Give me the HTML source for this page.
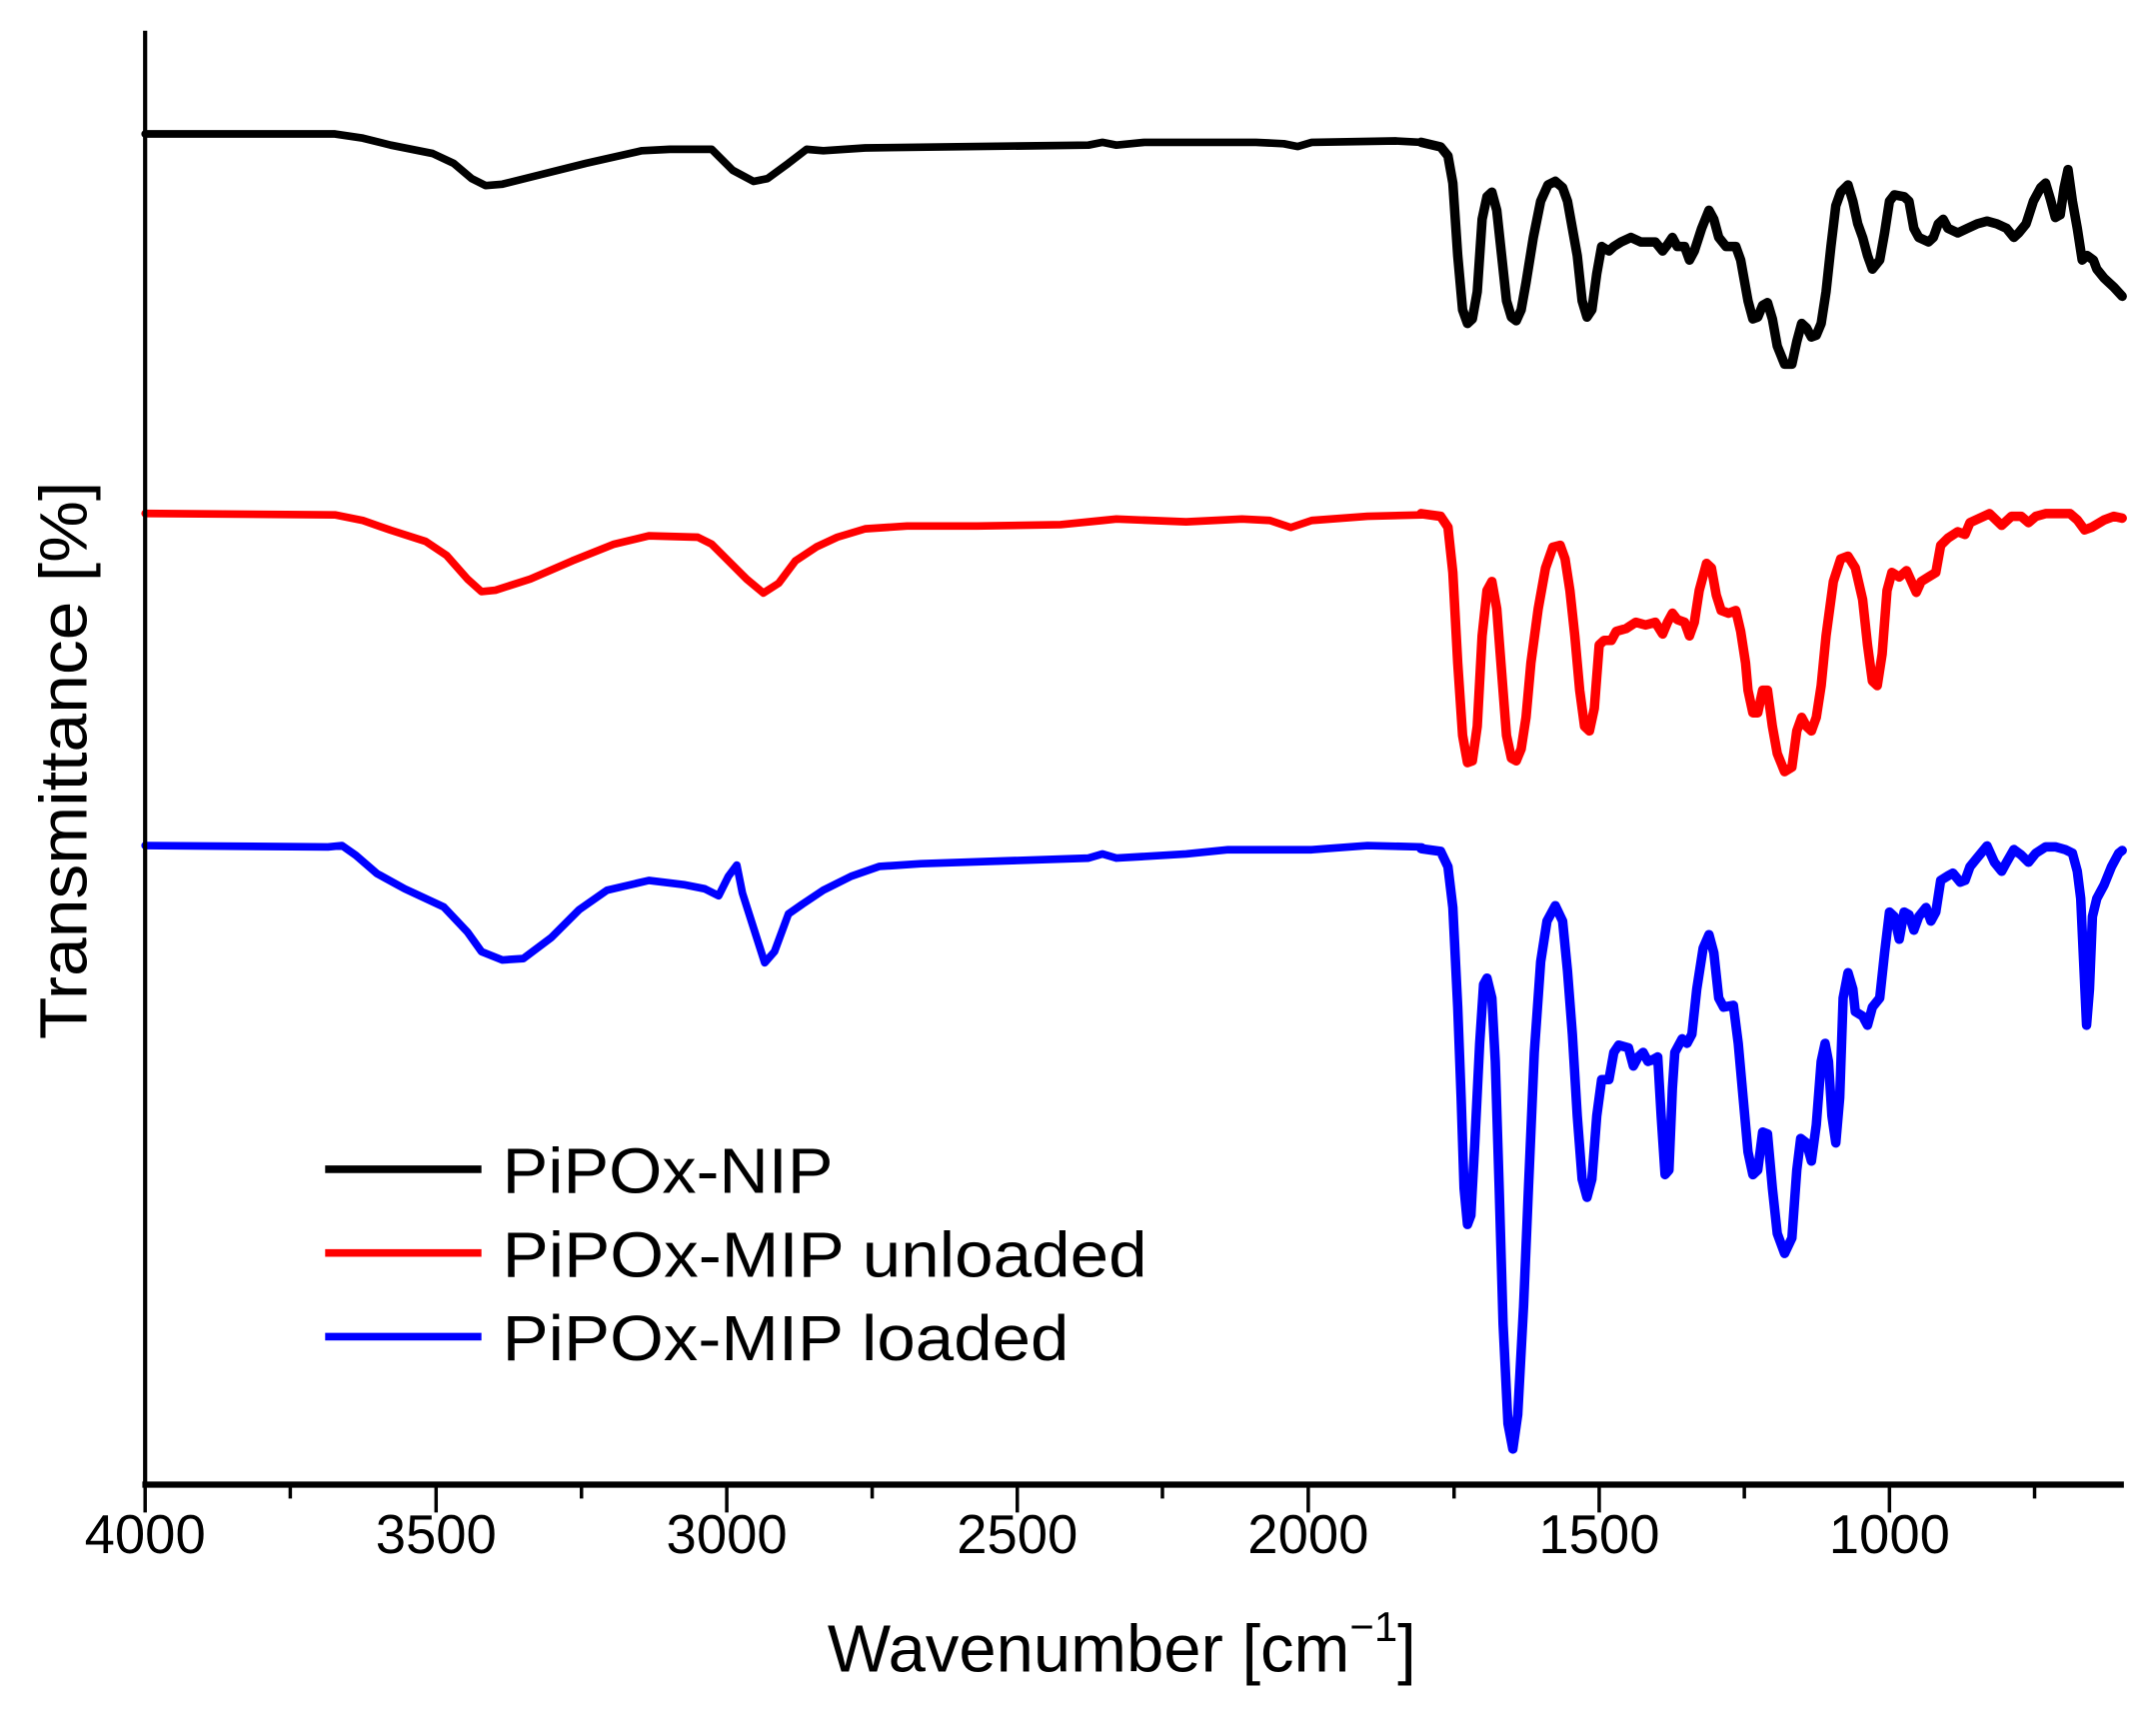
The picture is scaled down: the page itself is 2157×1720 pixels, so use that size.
<!DOCTYPE html>
<html><head><meta charset="utf-8"><style>
html,body{margin:0;padding:0;background:#fff}
svg{display:block}
text{font-family:"Liberation Sans",Arial,sans-serif;fill:#000}
</style></head><body>
<svg width="2157" height="1720" viewBox="0 0 1545 1232" xmlns="http://www.w3.org/2000/svg">
<g fill="none" stroke-linejoin="round" stroke-linecap="round" stroke-width="5.5">
<polyline stroke="#000" points="104,96 240,96 260,99 280,104 310,110 325,117 338,128 348,133 360,132 380,127 420,117 460,108 480,107 510,107 515,112 525,122 540,130 550,128 565,117 578,107 590,108 620,106 700,105 780,104 790,102 800,104 820,102 900,102 920,103 930,105 940,102 1000,101 1019,102"/>
<polyline stroke="#f00" points="104,368 240,369 260,373 280,380 305,388 320,398 335,415 345,424 355,423 380,415 410,402 440,390 465,384 500,385 510,390 520,400 535,415 547,425 558,418 570,402 585,392 600,385 620,379 650,377 700,377 760,376 790,373 800,372 850,374 890,372 910,373 925,378 940,373 980,370 1019,369"/>
<polyline stroke="#00f" points="104,606 235,607 245,606 255,613 270,626 290,637 318,650 335,668 345,682 360,688 375,687 395,672 415,652 435,638 465,631 490,634 505,637 515,642 522,628 528,620 532,640 540,665 548,690 555,682 565,655 575,648 590,638 610,628 630,621 660,619 720,617 780,615 790,612 800,615 850,612 880,609 940,609 980,606 1019,607"/>
<g transform="translate(1018.4,72.8) scale(0.3496,0.649)" style="stroke-width:9.5px">
<polyline vector-effect="non-scaling-stroke" stroke="#000" points="0,45 40,50 55,60 65,90 75,170 85,230 95,245 105,240 115,210 125,130 135,105 145,100 155,120 165,170 175,220 185,238 195,242 205,230 215,200 230,150 245,110 260,92 275,88 290,95 300,110 310,140 320,170 330,220 340,238 350,230 360,190 370,160 385,165 395,160 410,155 430,150 450,155 470,155 480,155 495,165 505,158 515,150 525,160 540,160 550,175 560,165 575,140 590,120 600,130 610,150 625,160 645,160 655,175 670,220 680,240 690,238 700,225 710,222 720,240 730,270 745,290 760,290 770,265 780,245 790,250 800,260 810,258 820,245 830,210 840,160 850,115 860,100 875,92 885,110 895,135 905,150 915,170 925,185 940,175 950,145 960,110 970,103 990,105 1000,110 1010,140 1020,150 1040,155 1050,150 1060,135 1070,130 1080,140 1100,145 1120,140 1140,135 1160,132 1180,135 1200,140 1215,150 1225,145 1240,135 1255,110 1270,95 1280,90 1290,108 1300,128 1310,125 1318,95 1326,75 1335,110 1345,140 1355,175 1365,170 1378,175 1385,185 1400,195 1420,205 1437,215"/>
<polyline vector-effect="non-scaling-stroke" stroke="#f00" points="0,455 40,458 55,470 65,520 75,620 85,700 95,730 105,728 115,690 125,590 135,540 145,530 155,560 165,630 175,700 185,725 195,728 205,715 215,680 225,620 240,560 255,515 270,492 285,490 295,505 305,540 315,590 325,650 335,690 345,695 355,670 365,600 375,595 390,595 400,585 420,582 440,575 460,578 480,575 495,588 505,575 515,565 525,572 540,575 550,590 560,575 570,540 585,510 595,515 605,545 615,562 630,565 645,562 655,585 665,620 670,650 680,675 690,675 700,650 710,650 720,690 730,720 745,740 760,735 770,695 780,680 790,690 800,695 810,680 820,645 830,590 845,530 860,505 875,502 890,515 905,550 915,600 925,640 935,645 945,610 955,540 965,520 980,525 995,518 1005,530 1015,542 1025,530 1040,525 1055,520 1065,490 1080,482 1100,475 1115,478 1125,465 1145,460 1165,455 1190,468 1210,458 1230,458 1245,465 1260,458 1280,455 1310,455 1330,455 1345,462 1360,473 1375,470 1400,462 1420,458 1437,460"/>
<polyline vector-effect="non-scaling-stroke" stroke="#00f" points="0,825 40,828 55,845 65,890 75,1000 82,1100 88,1200 95,1240 102,1230 110,1150 120,1040 128,975 135,968 145,990 152,1060 160,1200 168,1350 178,1460 188,1488 198,1450 210,1330 220,1200 232,1050 245,950 258,905 275,888 290,905 300,960 310,1030 320,1120 330,1190 340,1210 350,1190 360,1120 370,1080 385,1080 395,1050 405,1042 425,1045 435,1065 445,1055 455,1050 465,1060 475,1058 485,1055 492,1120 500,1185 508,1180 515,1090 520,1050 535,1035 545,1040 555,1030 565,980 578,935 590,920 600,940 610,990 620,1000 640,998 650,1040 660,1100 670,1160 680,1185 690,1180 700,1138 710,1140 720,1200 730,1250 745,1272 760,1255 770,1180 778,1145 790,1150 800,1170 810,1130 820,1060 828,1040 835,1060 842,1120 850,1150 858,1100 865,990 875,962 885,980 890,1005 905,1010 915,1020 925,1000 940,990 950,940 960,895 970,900 980,925 990,895 1000,898 1010,915 1020,900 1035,890 1045,905 1055,895 1065,860 1080,855 1090,852 1105,862 1115,860 1125,845 1140,835 1160,822 1175,840 1190,850 1200,840 1215,826 1230,832 1245,840 1260,830 1280,823 1300,823 1320,826 1335,830 1345,850 1352,880 1358,950 1364,1020 1370,980 1376,900 1385,880 1400,865 1415,845 1430,830 1437,827"/>
</g>
</g>
<g stroke="#000">
<line x1="104" y1="22" x2="104" y2="1066" stroke-width="3"/>
<line x1="102" y1="1064" x2="1522" y2="1064" stroke-width="4.5"/>
<g stroke-width="2.5">
<line x1="104" y1="1064" x2="104" y2="1084"/><line x1="312.5" y1="1064" x2="312.5" y2="1084"/><line x1="520.8" y1="1064" x2="520.8" y2="1084"/><line x1="729" y1="1064" x2="729" y2="1084"/><line x1="937.5" y1="1064" x2="937.5" y2="1084"/><line x1="1146" y1="1064" x2="1146" y2="1084"/><line x1="1354" y1="1064" x2="1354" y2="1084"/>
<line x1="208" y1="1064" x2="208" y2="1074"/><line x1="416.7" y1="1064" x2="416.7" y2="1074"/><line x1="625" y1="1064" x2="625" y2="1074"/><line x1="833" y1="1064" x2="833" y2="1074"/><line x1="1042" y1="1064" x2="1042" y2="1074"/><line x1="1250" y1="1064" x2="1250" y2="1074"/><line x1="1458" y1="1064" x2="1458" y2="1074"/>
</g>
</g>
<g font-size="39" text-anchor="middle">
<text x="104" y="1113">4000</text><text x="312.5" y="1113">3500</text><text x="520.8" y="1113">3000</text><text x="729" y="1113">2500</text><text x="937.5" y="1113">2000</text><text x="1146" y="1113">1500</text><text x="1354" y="1113">1000</text>
</g>
<text x="593" y="1198" font-size="48">Wavenumber [cm<tspan font-size="30" dy="-22">−1</tspan><tspan dy="22">]</tspan></text>
<text transform="translate(62,545) rotate(-90)" font-size="48" text-anchor="middle" textLength="400" lengthAdjust="spacingAndGlyphs">Transmittance [%]</text>
<g stroke-width="5.5">
<line x1="233" y1="838" x2="345" y2="838" stroke="#000"/>
<line x1="233" y1="898" x2="345" y2="898" stroke="#f00"/>
<line x1="233" y1="958" x2="345" y2="958" stroke="#00f"/>
</g>
<g font-size="46">
<text x="360" y="855" textLength="237" lengthAdjust="spacingAndGlyphs">PiPOx-NIP</text>
<text x="360" y="915" textLength="462" lengthAdjust="spacingAndGlyphs">PiPOx-MIP unloaded</text>
<text x="360" y="975" textLength="406" lengthAdjust="spacingAndGlyphs">PiPOx-MIP loaded</text>
</g>
</svg>
</body></html>
